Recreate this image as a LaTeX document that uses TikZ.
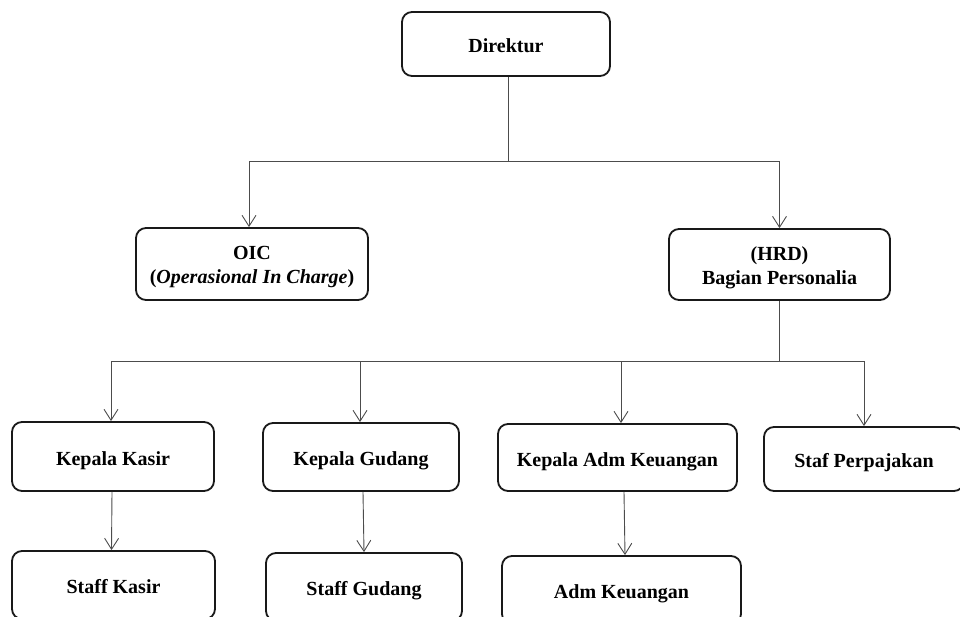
\documentclass[tikz,border=0pt]{standalone}
\usepackage{fontspec}
\setmainfont{Liberation Serif}
\usetikzlibrary{arrows.meta}
\begin{document}
\begin{tikzpicture}[x=1pt,y=-1pt,
  box/.style={draw=black!90, line width=1.8pt, rounded corners=10pt, fill=white, align=center, font=\fontsize{20}{24}\selectfont\bfseries, inner sep=0pt, text height=17pt, text depth=0pt},
  boxtwo/.style={box, text height=39pt, text depth=0pt},
  conn/.style={draw=black!70, line width=0.9pt},
  arr/.style={conn, -{Straight Barb[length=11pt,width=14pt]}}]
\useasboundingbox (0,0) rectangle (960,617);
\clip (0,0) rectangle (960,617);
\node[box, minimum width=208pt, minimum height=64pt] (dir) at (506,44) {Direktur};
\node[boxtwo, minimum width=232pt, minimum height=72pt] (oic) at (252,264) {OIC\\(\textit{Operasional In Charge})};
\node[boxtwo, minimum width=221pt, minimum height=71pt] (hrd) at (779.5,264.5) {(HRD)\\Bagian Personalia};
\node[box, minimum width=202pt, minimum height=69pt] (kk) at (113,456.5) {Kepala Kasir};
\node[box, minimum width=196pt, minimum height=68pt] (kg) at (361,457) {Kepala Gudang};
\node[box, minimum width=239pt, minimum height=67pt] (kak) at (617.5,457.5) {Kepala Adm Keuangan};
\node[box, minimum width=200pt, minimum height=64pt] (sp) at (864,459) {Staf Perpajakan};
\node[box, minimum width=203pt, minimum height=68pt] (sk) at (113.5,585) {Staff Kasir};
\node[box, minimum width=196pt, minimum height=68pt] (sg) at (364,587) {Staff Gudang};
\node[box, minimum width=239pt, minimum height=68pt] (ak) at (621.5,590) {Adm Keuangan};
\draw[conn] ([xshift=2pt]dir.south) -- ++(0,85) coordinate (b1);
\draw[arr] (b1) -| ([xshift=-3pt]oic.north);
\draw[arr] (b1) -| (hrd.north);
\draw[conn] (hrd.south) -- ++(0,61) coordinate (b2);
\draw[arr] (b2) -| ([xshift=-2pt]kk.north);
\draw[arr] (b2) -| ([xshift=-1pt]kg.north);
\draw[arr] (b2) -| ([xshift=3.5pt]kak.north);
\draw[arr] (b2) -| (sp.north);
\draw[arr] ([xshift=-1pt]kk.south) -- ([xshift=-2pt]sk.north);
\draw[arr] ([xshift=2pt]kg.south) -- (sg.north);
\draw[arr] ([xshift=6.5pt]kak.south) -- ([xshift=3.5pt]ak.north);
\end{tikzpicture}
\end{document}
